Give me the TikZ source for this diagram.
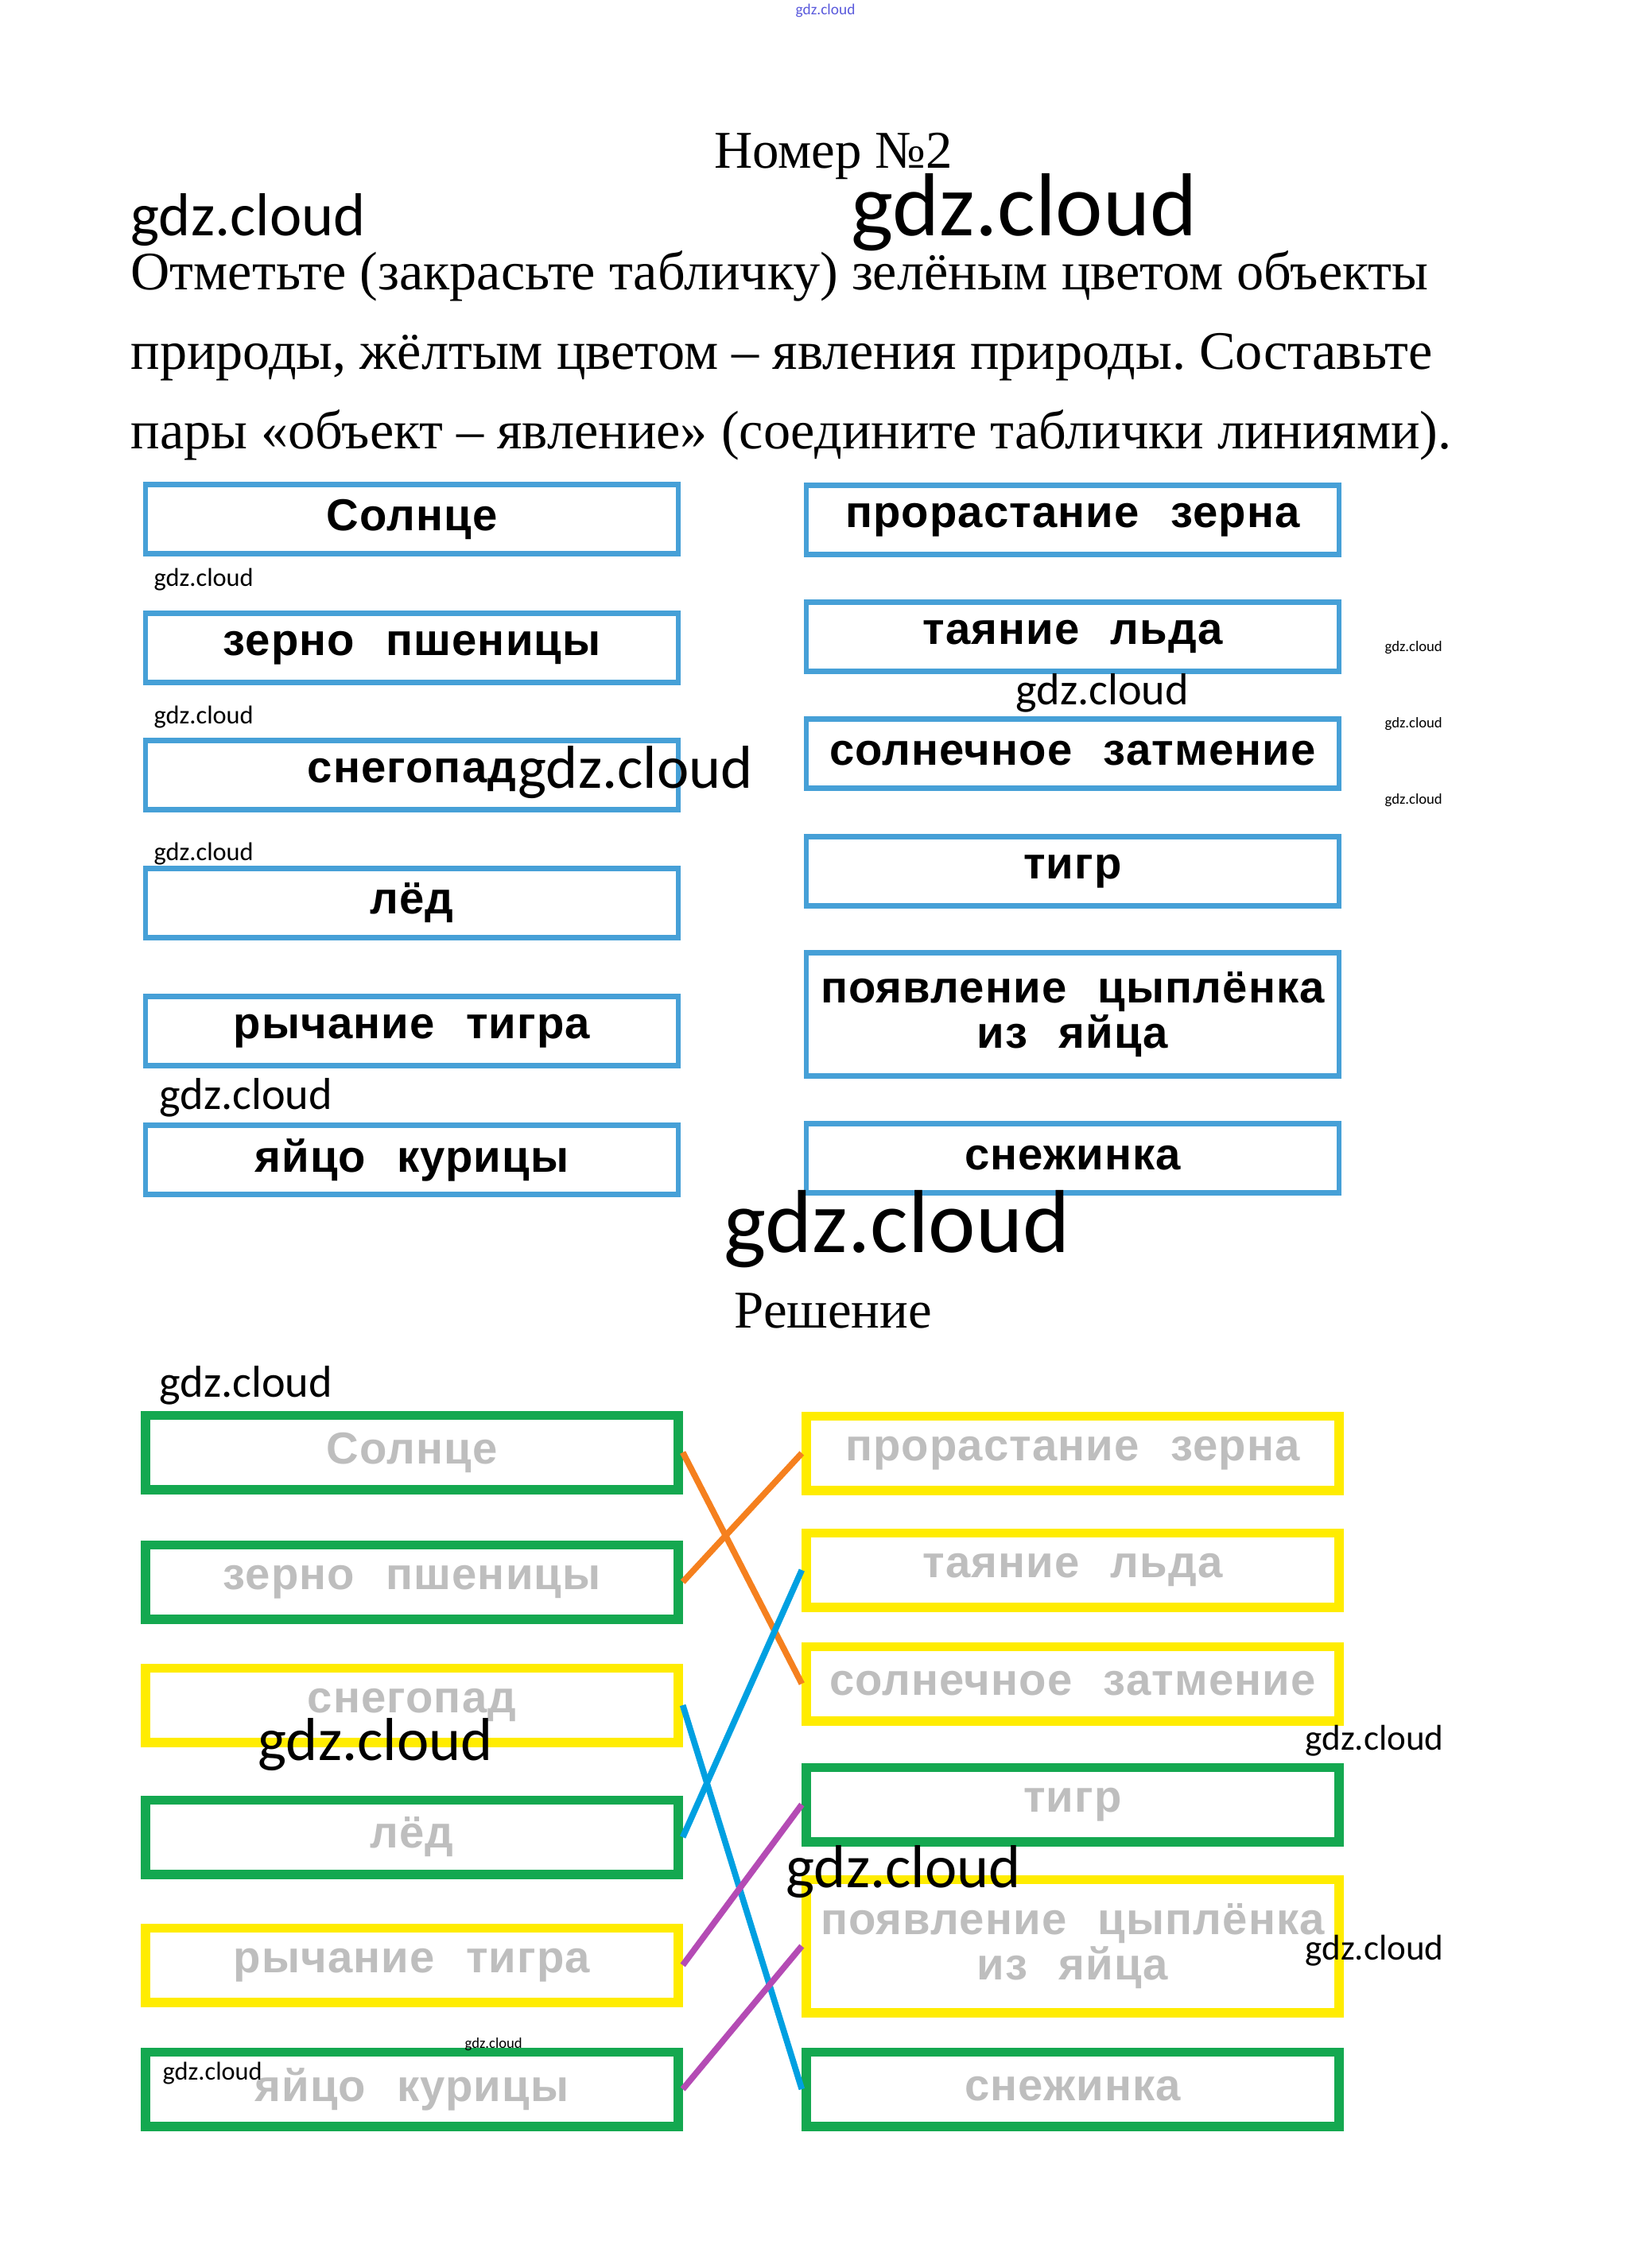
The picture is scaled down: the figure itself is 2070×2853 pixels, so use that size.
\documentclass[tikz,border=0pt]{standalone}
\usepackage{fontspec}
\setmainfont{Liberation Serif}
\newfontfamily\tabfont[LetterSpace=2]{Liberation Sans}
\newfontfamily\wmfont{Carlito}
\definecolor{tabblue}{RGB}{70,160,215}
\definecolor{objgreen}{RGB}{20,168,80}
\definecolor{yavyellow}{RGB}{255,236,0}
\definecolor{fadegray}{RGB}{190,190,190}
\definecolor{linkorange}{RGB}{245,128,30}
\definecolor{linkblue}{RGB}{0,160,225}
\definecolor{linkpurple}{RGB}{180,75,180}
\definecolor{wmblue}{RGB}{90,90,220}
\newcommand{\wgap}{\hspace{0.7em}}
\frenchspacing

\begin{document}
\begin{tikzpicture}[x=0.01cm,y=-0.01cm,
    tab/.style={draw=tabblue,line width=1.8pt,minimum width=6.69cm,minimum height=0.87cm,
        inner sep=0pt,align=center,font=\tabfont\bfseries\fontsize{16}{16}\selectfont},
    obj/.style={tab,draw=objgreen,line width=3.4pt,minimum height=0.93cm,text=fadegray},
    yav/.style={obj,draw=yavyellow},
    wm/.style={font=\wmfont,anchor=base west,inner sep=0pt},
    link/.style={line width=2.2pt},
    body/.style={anchor=base west,inner sep=0pt,font=\fontsize{19.4}{19.4}\selectfont}
]
    \useasboundingbox (0,0) rectangle (2070,2853);

    % Заголовок и задание
    \node[inner sep=0pt,anchor=base,font=\fontsize{19}{19}\selectfont] (title) at (1048,211) {Номер №2};
    \node[body] (line1) at (164,364) {Отметьте (закрасьте табличку) зелёным цветом объекты};
    \node[body] (line2) at (164,464) {природы, жёлтым цветом -- явления природы. Составьте};
    \node[body] (line3) at (164,564) {пары «объект -- явление» (соедините таблички линиями).};

    % Таблички задания
    \node[tab] (sun) at (518,653) {Солнце};
    \node[tab] (grain) at (518,815) {зерно\wgap пшеницы};
    \node[tab] (snowfall) at (518,975) {снегопад};
    \node[tab] (ice) at (518,1136) {лёд};
    \node[tab] (roar) at (518,1297) {рычание\wgap тигра};
    \node[tab] (egg) at (518,1459) {яйцо\wgap курицы};
    \node[tab] (sprout) at (1349,654) {прорастание\wgap зерна};
    \node[tab] (melt) at (1349,801) {таяние\wgap льда};
    \node[tab] (eclipse) at (1349,948) {солнечное\wgap затмение};
    \node[tab] (tiger) at (1349,1096) {тигр};
    \node[tab,minimum height=1.55cm] (chick) at (1349,1276) {появление\wgap цыплёнка\\из\wgap яйца};
    \node[tab] (flake) at (1349,1457) {снежинка};

    \node[inner sep=0pt,anchor=base,font=\fontsize{19}{19}\selectfont] (answer) at (1048,1670) {Решение};

    % Таблички решения
    \node[obj] (sunA) at (518,1827) {Солнце};
    \node[obj] (grainA) at (518,1990) {зерно\wgap пшеницы};
    \node[yav] (snowfallA) at (518,2145) {снегопад};
    \node[obj] (iceA) at (518,2311) {лёд};
    \node[yav] (roarA) at (518,2472) {рычание\wgap тигра};
    \node[obj] (eggA) at (518,2628) {яйцо\wgap курицы};
    \node[yav] (sproutA) at (1349,1828) {прорастание\wgap зерна};
    \node[yav] (meltA) at (1349,1975) {таяние\wgap льда};
    \node[yav] (eclipseA) at (1349,2118) {солнечное\wgap затмение};
    \node[obj] (tigerA) at (1349,2270) {тигр};
    \node[yav,minimum height=1.67cm] (chickA) at (1349,2448) {появление\wgap цыплёнка\\из\wgap яйца};
    \node[obj] (flakeA) at (1349,2628) {снежинка};

    % Линии пар
    \draw[link,linkorange] (sunA.east) -- (eclipseA.west);
    \draw[link,linkorange] (grainA.east) -- (sproutA.west);
    \draw[link,linkblue] (snowfallA.east) -- (flakeA.west);
    \draw[link,linkblue] (iceA.east) -- (meltA.west);
    \draw[link,linkpurple] (roarA.east) -- (tigerA.west);
    \draw[link,linkpurple] (eggA.east) -- (chickA.west);

    % Водяные знаки
    \node[wm,text=wmblue,font=\wmfont\fontsize{5.5}{6}\selectfont] (wm0) at (1000,18) {gdz.cloud};
    \node[wm,font=\wmfont\fontsize{21.7}{22}\selectfont] (wm1) at (164,296) {gdz.cloud};
    \node[wm,font=\wmfont\fontsize{32}{32}\selectfont] (wm2) at (1070,296) {gdz.cloud};
    \node[wm,font=\wmfont\fontsize{9.2}{10}\selectfont] (wm3) at (193,737) {gdz.cloud};
    \node[wm,font=\wmfont\fontsize{9.2}{10}\selectfont] (wm4) at (193,910) {gdz.cloud};
    \node[wm,font=\wmfont\fontsize{9.2}{10}\selectfont] (wm5) at (193,1082) {gdz.cloud};
    \node[wm,font=\wmfont\fontsize{16}{16}\selectfont] (wm6) at (200,1395) {gdz.cloud};
    \node[wm,font=\wmfont\fontsize{21.7}{22}\selectfont] (wm7) at (651,991) {gdz.cloud};
    \node[wm,font=\wmfont\fontsize{16}{16}\selectfont] (wm8) at (1277,886) {gdz.cloud};
    \node[wm,font=\wmfont\fontsize{5.3}{6}\selectfont] (wm9) at (1741,819) {gdz.cloud};
    \node[wm,font=\wmfont\fontsize{5.3}{6}\selectfont] (wm10) at (1741,915) {gdz.cloud};
    \node[wm,font=\wmfont\fontsize{5.3}{6}\selectfont] (wm11) at (1741,1011) {gdz.cloud};
    \node[wm,font=\wmfont\fontsize{32}{32}\selectfont] (wm12) at (910,1575) {gdz.cloud};
    \node[wm,font=\wmfont\fontsize{16}{16}\selectfont] (wm13) at (200,1757) {gdz.cloud};
    \node[wm,font=\wmfont\fontsize{21.7}{22}\selectfont] (wm14) at (324,2214) {gdz.cloud};
    \node[wm,font=\wmfont\fontsize{12.8}{13}\selectfont] (wm15) at (1641,2201) {gdz.cloud};
    \node[wm,font=\wmfont\fontsize{21.7}{22}\selectfont] (wm16) at (988,2374) {gdz.cloud};
    \node[wm,font=\wmfont\fontsize{12.8}{13}\selectfont] (wm17) at (1641,2465) {gdz.cloud};
    \node[wm,font=\wmfont\fontsize{5.3}{6}\selectfont] (wm18) at (584,2576) {gdz.cloud};
    \node[wm,font=\wmfont\fontsize{9.2}{10}\selectfont] (wm19) at (204,2616) {gdz.cloud};
\end{tikzpicture}
\end{document}
